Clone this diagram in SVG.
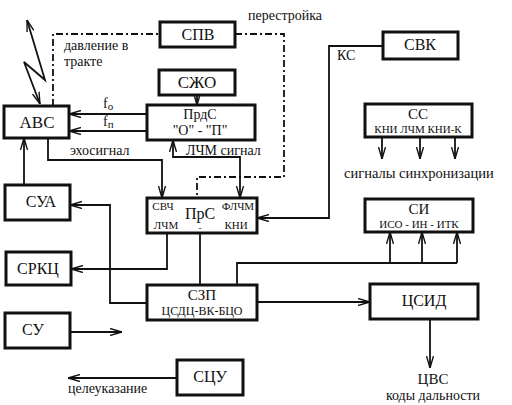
<svg xmlns="http://www.w3.org/2000/svg" width="512" height="405" viewBox="0 0 512 405" font-family="Liberation Serif, DejaVu Serif, serif">
<defs>
<marker id="a" viewBox="0 0 12 8" refX="12" refY="4" markerWidth="12" markerHeight="8" markerUnits="userSpaceOnUse" orient="auto-start-reverse">
<path d="M0,0.5 L12,4 L0,7.5" fill="none" stroke="#111" stroke-width="1.4"/>
</marker>
</defs>
<style>
rect{fill:#fff;stroke:#111;stroke-width:3}
text{fill:#111;text-anchor:middle}
.b{font-size:16px}
.s{font-size:11px}
.l{font-size:14px;text-anchor:start}
.c{fill:none;stroke:#111;stroke-width:1.8}
.d{fill:none;stroke:#111;stroke-width:1.8;stroke-dasharray:7 3 2 3}
</style>
<rect x="0" y="0" width="512" height="405" style="fill:#fff;stroke:none"/>
<g id="connectors">
<path class="c" d="M40,104 L24,62 L45,80 L27,20" marker-start="url(#a)" marker-end="url(#a)"/>
<path class="d" d="M53,106 V34 H160"/>
<path class="d" d="M235,34 H284 V177 H197 V198"/>
<path class="c" d="M197,95 V105" marker-end="url(#a)"/>
<path class="c" d="M147,114 H69" marker-end="url(#a)"/>
<path class="c" d="M147,131 H69" marker-end="url(#a)"/>
<path class="c" d="M48,138 V160 H162 V198" marker-end="url(#a)"/>
<path class="c" d="M173,140 V157 H240 V198" marker-start="url(#a)" marker-end="url(#a)"/>
<path class="c" d="M24,185 V138" marker-end="url(#a)"/>
<path class="c" d="M147,303 H110 V205 H70" marker-end="url(#a)"/>
<path class="c" d="M167,232 V269 H71" marker-end="url(#a)"/>
<path class="c" d="M200,232 V285"/>
<path class="c" d="M237,285 V263 H457"/>
<path class="c" d="M390,263 V232" marker-end="url(#a)"/>
<path class="c" d="M422,263 V232" marker-end="url(#a)"/>
<path class="c" d="M457,263 V232" marker-end="url(#a)"/>
<path class="c" d="M257,302 H370" marker-end="url(#a)"/>
<path class="c" d="M430,319 V368" marker-end="url(#a)"/>
<path class="c" d="M70,332 H122" marker-end="url(#a)"/>
<path class="c" d="M177,378 H68" marker-end="url(#a)"/>
<path class="c" d="M383,46 H329 V218 H257" marker-end="url(#a)"/>
<path class="c" d="M382,137 V159" marker-end="url(#a)"/>
<path class="c" d="M420,137 V159" marker-end="url(#a)"/>
<path class="c" d="M455,137 V159" marker-end="url(#a)"/>
</g>
<g id="labels">
<text class="l" x="248" y="20">перестройка</text>
<text class="l" x="64" y="50">давление в</text>
<text class="l" x="64" y="66">тракте</text>
<text class="l" x="103" y="108">f<tspan font-size="11" dy="2">о</tspan></text>
<text class="l" x="103" y="126">f<tspan font-size="11" dy="2">п</tspan></text>
<text class="l" x="70" y="155">эхосигнал</text>
<text class="l" x="186" y="155">ЛЧМ сигнал</text>
<text class="l" x="337" y="60">КС</text>
<text class="l" x="344" y="178" style="font-size:14.5px">сигналы синхронизации</text>
<text x="433" y="384" style="font-size:15px">ЦВС</text>
<text x="433" y="400" style="font-size:14px">коды дальности</text>
<text class="l" x="68" y="393">целеуказание</text>
</g>
<g id="SPV"><rect x="160" y="22" width="75" height="25"/><text class="b" x="198" y="40">СПВ</text></g>
<g id="SZhO"><rect x="159" y="70" width="76" height="25"/><text class="b" x="197" y="88" style="font-size:17px">СЖО</text></g>
<g id="PrdS"><rect x="147" y="105" width="108" height="35"/><text x="200" y="119" style="font-size:14px">ПрдС</text><text x="200" y="135" style="font-size:14px">"О" - "П"</text></g>
<g id="AVS"><rect x="4" y="106" width="65" height="32"/><text class="b" x="37" y="128" style="font-size:17px">АВС</text></g>
<g id="SUA"><rect x="5" y="185" width="65" height="35"/><text class="b" x="41" y="207">СУА</text></g>
<g id="SRKC"><rect x="6" y="252" width="65" height="33"/><text class="b" x="38" y="274">СРКЦ</text></g>
<g id="SU"><rect x="5" y="313" width="65" height="35"/><text class="b" x="33" y="335">СУ</text></g>
<g id="SCU"><rect x="177" y="360" width="66" height="35"/><text class="b" x="210" y="382">СЦУ</text></g>
<g id="PrS"><rect x="147" y="198" width="110" height="35"/>
<text class="s" x="163" y="210">СВЧ</text><text class="s" x="238" y="210">ФЛЧМ</text>
<text x="200" y="219" style="font-size:16px">ПрС</text>
<text class="s" x="166" y="229">ЛЧМ</text><text x="200" y="231" style="font-size:9px">-</text><text class="s" x="236" y="229">КНИ</text></g>
<g id="SZP"><rect x="147" y="285" width="110" height="35"/><text x="202" y="300" style="font-size:15px">СЗП</text><text x="202" y="315" style="font-size:12px">ЦСДЦ-ВК-БЦО</text></g>
<g id="SVK"><rect x="383" y="32" width="75" height="27"/><text class="b" x="420" y="50">СВК</text></g>
<g id="SS"><rect x="365" y="104" width="107" height="33"/><text x="418" y="119" style="font-size:15px">СС</text><text class="s" x="418" y="133">КНИ ЛЧМ КНИ-К</text></g>
<g id="SI"><rect x="365" y="199" width="108" height="33"/><text x="419" y="214" style="font-size:15px">СИ</text><text class="s" x="419" y="228">ИСО - ИН - ИТК</text></g>
<g id="CSID"><rect x="370" y="284" width="108" height="35"/><text class="b" x="424" y="306">ЦСИД</text></g>
</svg>
